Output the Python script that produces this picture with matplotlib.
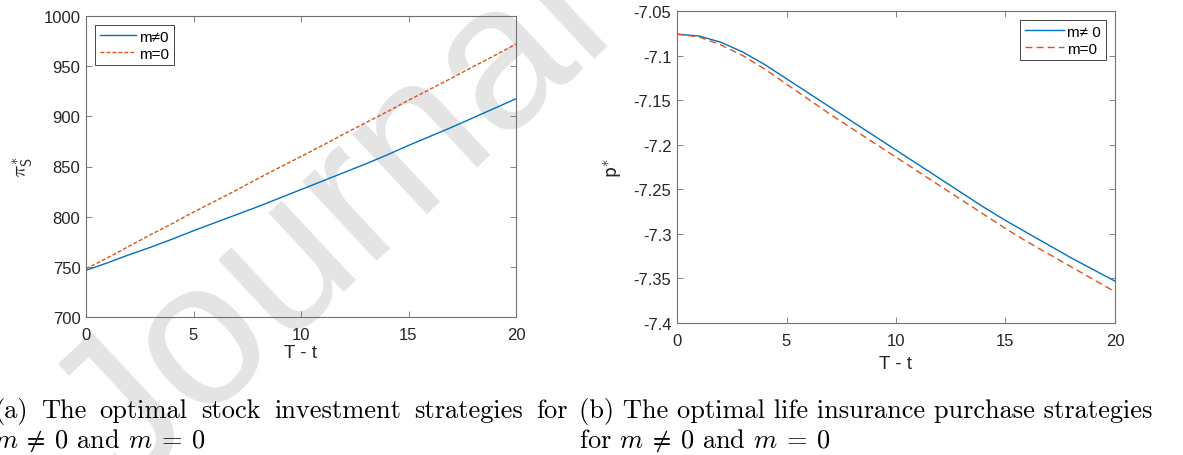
import numpy as np
import matplotlib.pyplot as plt

plt.rcParams['font.family'] = ['Liberation Sans', 'DejaVu Sans']
plt.rcParams['mathtext.fontset'] = 'cm'
plt.rcParams['axes.unicode_minus'] = False

# remaining time T - t
tt = np.arange(0, 21)

# optimal stock investment pi_S^*
pi_m = [746.5, 754, 762, 769.5, 777.5, 786, 794, 802, 810, 818.5, 827,
        835.5, 844, 852.5, 861.5, 871, 880, 889, 898.5, 908, 917.5]
pi_0 = [748, 759, 770.5, 782, 793, 804.5, 815.5, 826.5, 838, 849, 860,
        871, 882.5, 893.5, 904.5, 916, 927, 938, 949.5, 960.5, 972]

# optimal life insurance purchase p^*
p_m = [-7.076, -7.078, -7.085, -7.096, -7.110, -7.126, -7.142, -7.158, -7.174,
       -7.190, -7.206, -7.222, -7.238, -7.254, -7.270, -7.285, -7.299, -7.313,
       -7.327, -7.340, -7.353]
p_0 = [-7.076, -7.079, -7.088, -7.100, -7.115, -7.132, -7.149, -7.166, -7.182,
       -7.198, -7.214, -7.230, -7.246, -7.262, -7.278, -7.294, -7.309, -7.323,
       -7.337, -7.351, -7.365]

x_ticks = [0, 5, 10, 15, 20]
pi_ticks = [700, 750, 800, 850, 900, 950, 1000]
p_ticks = [-7.4, -7.35, -7.3, -7.25, -7.2, -7.15, -7.1, -7.05]
p_tick_labels = ['-7.4', '-7.35', '-7.3', '-7.25', '-7.2', '-7.15', '-7.1', '-7.05']

cap_a1 = ['(a)', 'The', 'optimal', 'stock', 'investment', 'strategies', 'for']
cap_a2 = r'$m \:\neq\: 0$ and $m \:=\: 0$'
cap_b1 = '(b) The optimal life insurance purchase strategies'
cap_b2 = r'for $m \:\neq\: 0$ and $m \:=\: 0$'

BLUE = '#0072BD'
ORANGE = '#D95319'
AXC = '#262626'

W, H = 1183, 456
fig = plt.figure(figsize=(W / 100, H / 100), dpi=100)

# light watermark behind both panels
fig.text(335 / W, 1 - 225 / H, 'Journal', fontsize=148, color='#e4e4e4',
         rotation=43, rotation_mode='anchor', ha='center', va='center',
         zorder=0)


def style_axes(ax):
    ax.patch.set_alpha(0)
    for s in ax.spines.values():
        s.set_color('#707070')
        s.set_linewidth(0.8)
    ax.tick_params(direction='in', top=True, right=True, length=4,
                   width=0.6, color='#707070', labelsize=12,
                   labelcolor=AXC, pad=4)
    ax.tick_params(axis='x', pad=7.5)


ax1 = fig.add_axes([86 / W, 1 - 318 / H, 430 / W, 301 / H], zorder=1)
ax1.plot(tt, pi_m, color=BLUE, lw=1.0, label='m≠0')
ax1.plot(tt, pi_0, color=ORANGE, lw=1.0, dashes=(2.8, 1.5), label='m=0')
ax1.set_xlim(0, 20)
ax1.set_ylim(700, 1000)
ax1.set_xticks(x_ticks)
ax1.set_yticks(pi_ticks)
style_axes(ax1)
ax1.set_xlabel('T - t', fontsize=13.5, color=AXC, labelpad=1.5)
ax1.set_ylabel(r'$\pi^{*}_{\mathsf{S}}$', fontsize=15, color=AXC, labelpad=6)
leg1 = ax1.legend(loc='upper left', fontsize=11, frameon=True, fancybox=False,
                  framealpha=1, edgecolor=AXC, borderaxespad=0.6,
                  handlelength=2.4, handletextpad=0.2, labelspacing=0.2,
                  borderpad=0.3)
leg1.get_frame().set_linewidth(0.6)

ax2 = fig.add_axes([677 / W, 1 - 324 / H, 438 / W, 312 / H], zorder=1)
ax2.plot(tt, p_m, color=BLUE, lw=1.0, label='m≠ 0')
ax2.plot(tt, p_0, color=ORANGE, lw=1.0, dashes=(5, 3), label='m=0')
ax2.set_xlim(0, 20)
ax2.set_ylim(-7.4, -7.05)
ax2.set_xticks(x_ticks)
ax2.set_yticks(p_ticks)
ax2.set_yticklabels(p_tick_labels)
style_axes(ax2)
ax2.set_xlabel('T - t', fontsize=13.5, color=AXC, labelpad=4.5)
ax2.set_ylabel(r'$\mathsf{p}^{*}$', fontsize=15, color=AXC, labelpad=7)
leg2 = ax2.legend(loc='upper right', fontsize=11, frameon=True, fancybox=False,
                  framealpha=1, edgecolor=AXC, borderaxespad=0.6,
                  handlelength=2.6, handletextpad=0.2, labelspacing=0.2,
                  borderpad=0.3)
leg2.get_frame().set_linewidth(0.6)

# captions in Computer Modern
cap_kw = dict(fontsize=19, family='cmr10', color='black', va='baseline',
              zorder=3)
renderer = fig.canvas.get_renderer()


def justify(words, x0, x1, y):
    """Spread words evenly between pixel columns x0 and x1."""
    items = [fig.text(0, y, w, **cap_kw) for w in words]
    widths = [t.get_window_extent(renderer).width for t in items]
    gap = (x1 - x0 - sum(widths)) / (len(words) - 1)
    x = x0
    for t, w in zip(items, widths):
        t.set_x(x / W)
        x += w + gap


justify(cap_a1, -6, 568, 1 - 418 / H)
fig.text(-6 / W, 1 - 448 / H, cap_a2, **cap_kw)
fig.text(579 / W, 1 - 418 / H, cap_b1, **cap_kw)
fig.text(579 / W, 1 - 448 / H, cap_b2, **cap_kw)

fig.savefig('out.png', dpi=100)
